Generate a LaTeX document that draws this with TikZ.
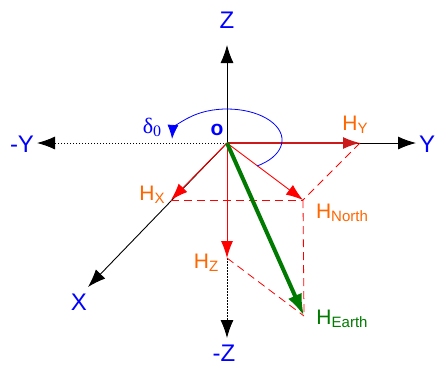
\documentclass[tikz,border=0pt]{standalone}
\usepackage{fontspec}
\setmainfont{Liberation Sans}
\newfontfamily\greekfont{Liberation Serif}
\usetikzlibrary{arrows.meta}
\definecolor{axisblue}{HTML}{0000FF}
\definecolor{hname}{HTML}{FF6600}
\definecolor{hred}{HTML}{FF0000}
\definecolor{hdark}{HTML}{CC1A1A}
\definecolor{earth}{HTML}{007A00}
\tikzset{
  axis/.style={-{Latex[length=18pt,width=13pt]},draw=black,line width=0.9pt},
  negaxis/.style={axis,dash pattern=on 1.5pt off 1.5pt},
  comp/.style={-{Latex[length=17pt,width=12pt]},draw=hred,line width=0.9pt},
  proj/.style={draw=hred,dash pattern=on 8pt off 5pt,line width=0.8pt},
  earthvec/.style={-{Latex[length=22pt,width=15pt]},draw=earth,line width=4pt},
  axlabel/.style={text=axisblue,inner sep=0pt,font=\fontsize{24}{26}\selectfont},
  hlabel/.style={text=hname,inner sep=0pt,font=\fontsize{21}{23}\selectfont},
}
\newcommand{\hsub}[1]{H\raisebox{-3pt}{\fontsize{15}{17}\selectfont #1}}

\begin{document}
\begin{tikzpicture}[x=1pt,y=-1pt]
  \useasboundingbox (0,0) rectangle (436,365);
  % axes and field points
  \coordinate (O) at (227,143);
  \coordinate (zend) at (227,45);
  \coordinate (yend) at (416,143);
  \coordinate (nyend) at (37,143);
  \coordinate (xend) at (88,287);
  \coordinate (nzend) at (227,338);
  \coordinate (hy) at (360,143);
  \coordinate (hx) at (171,200);
  \coordinate (hn) at (303,200);
  \coordinate (hz) at (227,258);
  \coordinate (he) at (304,316);
  \draw[axis] (O) -- (zend);
  \draw[axis] (O) -- (yend);
  \draw[negaxis] (O) -- (nyend);
  \draw[axis] (O) -- (xend);
  \draw[negaxis] (hz) -- (nzend);
  % projections
  \draw[proj] (hy) -- (hn);
  \draw[proj] (hx) -- (hn);
  \draw[proj] (hn) -- (he);
  \draw[proj] (hz) -- (he);
  % components
  \draw[comp,draw=hdark,line width=1.4pt] (O) -- (hy);
  \draw[comp] (O) -- (hx);
  \draw[comp] (O) -- (hn);
  \draw[comp] (O) -- (hz);
  \draw[earthvec] (O) -- (he);
  % declination
  \draw[blue,line width=0.8pt,-{Latex[length=14pt,width=11pt]}] (257,166) arc[start angle=57,end angle=-178,x radius=55,y radius=31];
  \node[axlabel] (zlab) at (227,20) {Z};
  \node[axlabel] (ylab) at (427,144) {Y};
  \node[axlabel] (nylab) at (22,144) {-Y};
  \node[axlabel] (xlab) at (79,302) {X};
  \node[axlabel] (nzlab) at (224,353) {-Z};
  \node[text=axisblue,inner sep=0pt,font=\fontsize{21}{23}\selectfont\bfseries] (olab) at (217,130) {o};
  \node[text=axisblue,inner sep=0pt,font=\fontsize{22}{24}\selectfont\greekfont] (dlab) at (152,127) {δ\raisebox{-3pt}{\fontsize{16}{18}\selectfont 0}};
  \node[hlabel] (hylab) at (355,125) {\hsub{Y}};
  \node[hlabel] (hxlab) at (152,195) {\hsub{X}};
  \node[hlabel] (hnlab) at (342,213) {\hsub{North}};
  \node[hlabel] (hzlab) at (206,263) {\hsub{Z}};
  \node[hlabel,text=earth] (helab) at (342,319) {\hsub{Earth}};
\end{tikzpicture}
\end{document}
